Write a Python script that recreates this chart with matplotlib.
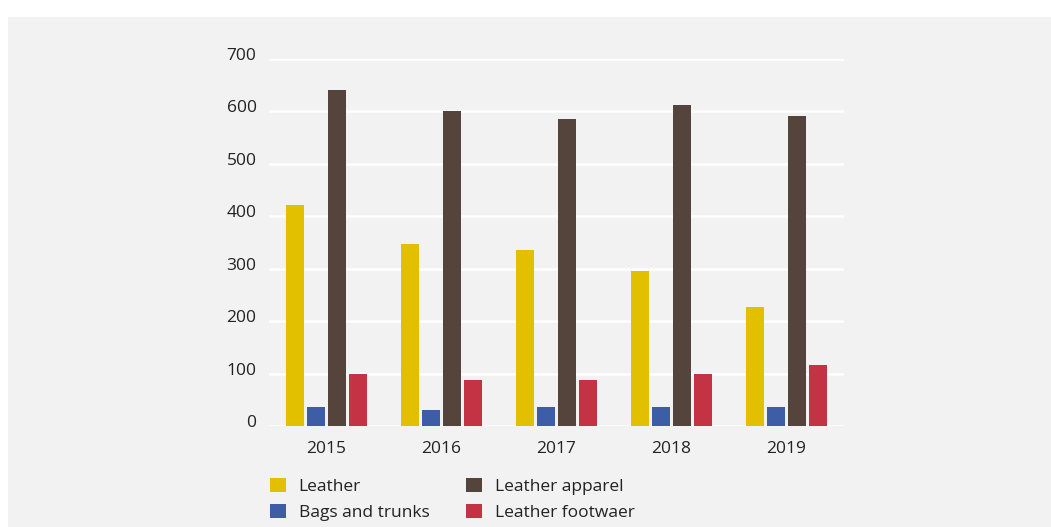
import numpy as np
import matplotlib.pyplot as plt
import matplotlib.transforms as mtransforms
from matplotlib.patches import Rectangle

years = ["2015", "2016", "2017", "2018", "2019"]
leather = [422, 347, 336, 296, 227]
bags = [36, 30, 36, 36, 36]
apparel = [641, 601, 586, 613, 591]
footwear = [99, 88, 88, 99, 116]

series = [
    ("Leather", leather, "#e2c000"),
    ("Bags and trunks", bags, "#3d5ea6"),
    ("Leather apparel", apparel, "#54443c"),
    ("Leather footwaer", footwear, "#c33344"),
]

plt.rcParams['font.family'] = ["Open Sans", "DejaVu Sans"]
txt = "#222222"
fs = 12.5

fig = plt.figure(figsize=(10.51, 5.27), dpi=100, facecolor="white")
W, H = 1051, 527
# grey panel behind everything
fig.patches.append(Rectangle((8 / W, 0), 1 - 8 / W, 1 - 17 / H, transform=fig.transFigure,
                             facecolor="#f2f2f2", edgecolor="none", zorder=-10))

ax = fig.add_axes([269 / W, 1 - 426 / H, (844 - 269) / W, (426 - 59) / H])
ax.set_facecolor("none")

x = np.arange(len(years))
offsets = [-0.275, -0.092, 0.092, 0.275]
width = 0.158
for (name, vals, col), off in zip(series, offsets):
    ax.bar(x + off, vals, width=width, color=col, label=name, zorder=3)

ax.set_xlim(-0.5, 4.5)
ax.set_ylim(0, 700)
ax.set_yticks(np.arange(0, 701, 100))
ax.set_xticks(x)
ax.set_xticklabels(years)
ax.grid(axis="y", color="white", linewidth=1.8, zorder=0)
ax.set_axisbelow(True)
for s in ax.spines.values():
    s.set_visible(False)
ax.tick_params(length=0, labelsize=fs, colors=txt)
ax.tick_params(axis="y", pad=9)
ax.tick_params(axis="x", pad=11)

# y labels sit a little above their gridline
shift = mtransforms.ScaledTranslation(0, 5 / 100, fig.dpi_scale_trans)
for lab in ax.get_yticklabels():
    lab.set_transform(lab.get_transform() + shift)

handles, labels = ax.get_legend_handles_labels()
leg = fig.legend(handles, labels, ncol=2, loc="upper left",
                 bbox_to_anchor=(261 / W, 1 - 469 / H), frameon=False,
                 fontsize=fs, handlelength=0.92, handleheight=0.92,
                 handletextpad=0.75, columnspacing=2.1, labelspacing=0.5,
                 borderpad=0)
for t in leg.get_texts():
    t.set_color(txt)

fig.savefig("out.png", dpi=100, facecolor=fig.get_facecolor())
